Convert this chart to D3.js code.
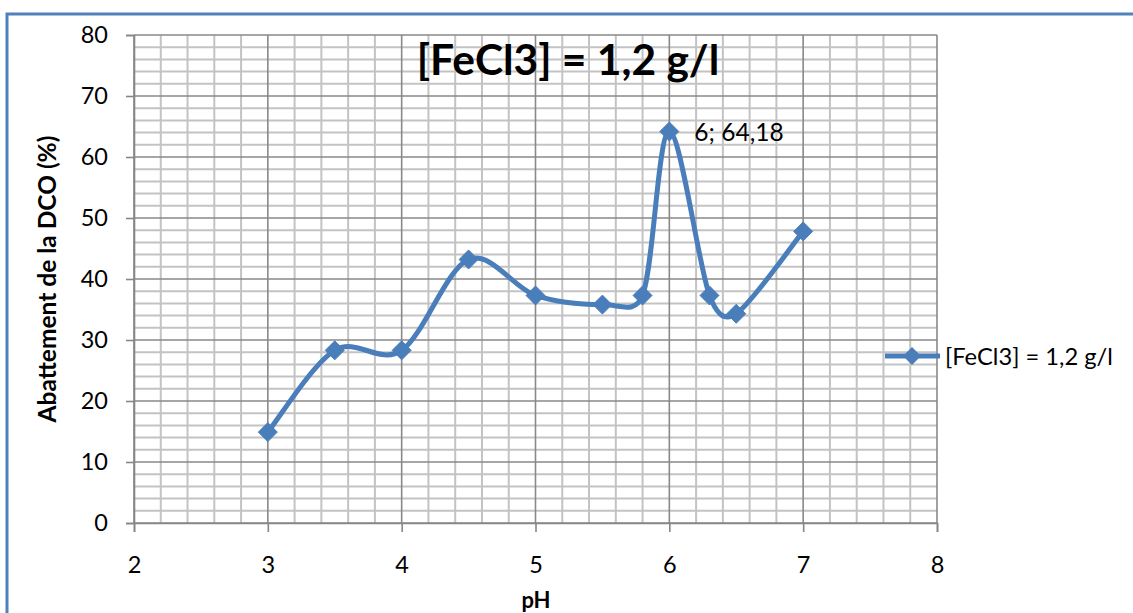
<!DOCTYPE html>
<html>
<head>
<meta charset="utf-8">
<script src="https://cdn.jsdelivr.net/npm/d3@7"></script>
<style>
  html, body { margin: 0; padding: 0; background: #fff; }
  svg { display: block; }
  text { font-family: Lato, "Open Sans", sans-serif; fill: #000; }
</style>
</head>
<body>
<svg id="chart" width="1133" height="613"></svg>
<script>
// ---- data ----
const phValues  = [3, 3.5, 4, 4.5, 5, 5.5, 5.8, 6, 6.3, 6.5, 7];
const dcoValues = [14.9, 28.3, 28.3, 43.2, 37.3, 35.8, 37.3, 64.18, 37.3, 34.3, 47.8];
const xTicks = [2, 3, 4, 5, 6, 7, 8];
const yTicks = [0, 10, 20, 30, 40, 50, 60, 70, 80];
const seriesName = "[FeCl3] = 1,2 g/l";
const chartTitle = "[FeCl3] = 1,2 g/l";
const xTitle = "pH";
const yTitle = "Abattement de la DCO (%)";
const annotation = "6; 64,18";

const svg = d3.select("#chart");
const blue = "#4a7ebb";

const x = d3.scaleLinear().domain([2, 8]).range([134, 937]);
const y = d3.scaleLinear().domain([0, 80]).range([523, 35]);

// outer frame
svg.append("rect").attr("x", 7).attr("y", 14).attr("width", 1300).attr("height", 800)
  .attr("fill", "none").attr("stroke", "#4f81bd").attr("stroke-width", 3);

// minor grid
const xMinor = d3.range(2, 8.0001, 0.2).filter(v => Math.abs(v - Math.round(v)) > 1e-6);
const yMinor = d3.range(0, 80.0001, 2).filter(v => v % 10 !== 0);
const g = svg.append("g");
g.selectAll(".vmin").data(xMinor).join("line")
  .attr("x1", d => x(d)).attr("x2", d => x(d)).attr("y1", y(0)).attr("y2", y(80))
  .attr("stroke", "#c3c3c3").attr("stroke-width", 2);
g.selectAll(".hmin").data(yMinor).join("line")
  .attr("x1", x(2)).attr("x2", x(8)).attr("y1", d => y(d)).attr("y2", d => y(d))
  .attr("stroke", "#c3c3c3").attr("stroke-width", 2);
// major grid
g.selectAll(".vmaj").data(xTicks).join("line")
  .attr("x1", d => x(d)).attr("x2", d => x(d)).attr("y1", y(0)).attr("y2", y(80))
  .attr("stroke", "#898989").attr("stroke-width", 1.6);
g.selectAll(".hmaj").data(yTicks).join("line")
  .attr("x1", x(2)).attr("x2", x(8)).attr("y1", d => y(d)).attr("y2", d => y(d))
  .attr("stroke", "#898989").attr("stroke-width", 1.6);

// axes
const xAxis = d3.axisBottom(x).tickValues(xTicks).tickSize(9).tickPadding(24).tickFormat(d3.format("d"));
const yAxis = d3.axisLeft(y).tickValues(yTicks).tickSize(8).tickPadding(18).tickFormat(d3.format("d"));
const gx = svg.append("g").attr("transform", `translate(0,${y(0)})`).call(xAxis);
const gy = svg.append("g").attr("transform", `translate(${x(2)},0)`).call(yAxis);
[gx, gy].forEach(a => {
  a.select(".domain").attr("stroke", "#868686").attr("stroke-width", 1.6);
  a.selectAll(".tick line").attr("stroke", "#868686").attr("stroke-width", 1.6);
  a.selectAll(".tick text").attr("font-family", "Lato, sans-serif").attr("font-size", 23.5).attr("fill", "#000");
});

// title
svg.append("text").attr("x", 568).attr("y", 75).attr("text-anchor", "middle")
  .attr("font-weight", "bold").attr("font-size", 42.5).text(chartTitle);

// axis titles
svg.append("text").attr("x", 536).attr("y", 608).attr("text-anchor", "middle")
  .attr("font-weight", "bold").attr("font-size", 22).text(xTitle);
svg.append("text").attr("transform", "translate(56,279) rotate(-90)").attr("text-anchor", "middle")
  .attr("font-weight", "bold").attr("font-size", 24.5).text(yTitle);

// Excel-like smoothed line: cubic Bezier, tangent 1/6 of neighbour chord, capped at half the segment
function excelSmooth(pts) {
  const dist = (a, b) => Math.hypot(b[0] - a[0], b[1] - a[1]);
  const p = d3.path();
  p.moveTo(pts[0][0], pts[0][1]);
  for (let i = 0; i < pts.length - 1; i++) {
    const P0 = pts[Math.max(0, i - 1)], P1 = pts[i], P2 = pts[i + 1], P3 = pts[Math.min(pts.length - 1, i + 2)];
    const d12 = dist(P1, P2), d02 = dist(P0, P2), d13 = dist(P1, P3);
    const f0 = d02 > 0 ? Math.min(1 / 6, 0.5 * d12 / d02) : 0;
    const f1 = d13 > 0 ? Math.min(1 / 6, 0.5 * d12 / d13) : 0;
    p.bezierCurveTo(
      P1[0] + (P2[0] - P0[0]) * f0, P1[1] + (P2[1] - P0[1]) * f0,
      P2[0] - (P3[0] - P1[0]) * f1, P2[1] - (P3[1] - P1[1]) * f1,
      P2[0], P2[1]);
  }
  return p.toString();
}
const pts = dcoValues.map((d, i) => [x(phValues[i]), y(d)]);
svg.append("path").attr("d", excelSmooth(pts))
  .attr("fill", "none").attr("stroke", blue).attr("stroke-width", 5).attr("stroke-linejoin", "round");

// markers (diamonds)
const diamond = (cx, cy, r) => `M${cx},${cy - r}L${cx + r},${cy}L${cx},${cy + r}L${cx - r},${cy}Z`;
svg.selectAll(".mk").data(dcoValues).join("path")
  .attr("d", (d, i) => diamond(x(phValues[i]), y(d), 9.5))
  .attr("fill", blue).attr("stroke", blue).attr("stroke-width", 1);

// annotation on the max
const iMax = d3.maxIndex(dcoValues);
svg.append("text").attr("x", x(phValues[iMax]) + 25).attr("y", y(dcoValues[iMax]) + 9)
  .attr("font-size", 24.5).text(annotation);

// legend
const lg = svg.append("g").attr("transform", "translate(885,356)");
lg.append("line").attr("x1", 0).attr("x2", 55).attr("y1", 0).attr("y2", 0)
  .attr("stroke", blue).attr("stroke-width", 5);
lg.append("path").attr("d", diamond(27, 0, 9)).attr("fill", blue);
lg.append("text").attr("x", 60).attr("y", 9).attr("font-size", 23.7).text(seriesName);
</script>
</body>
</html>
